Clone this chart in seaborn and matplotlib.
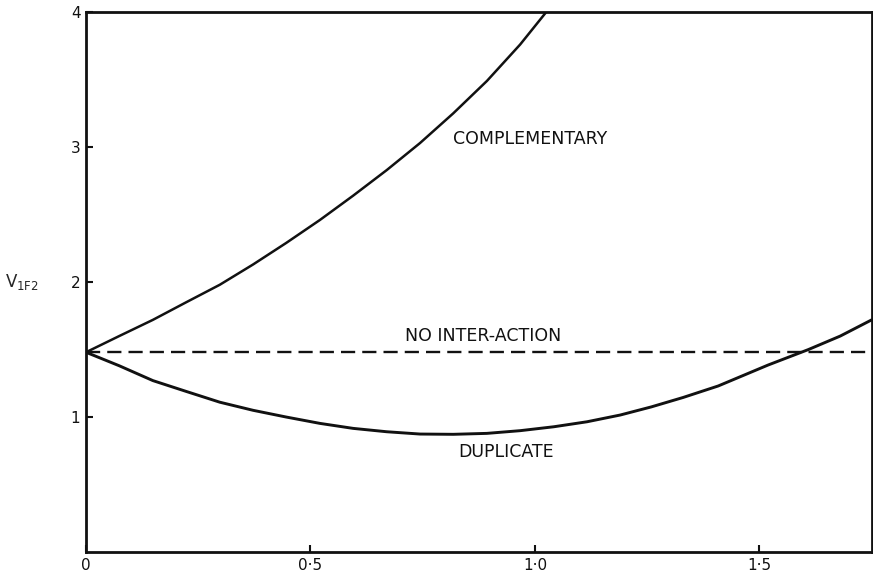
import numpy as np
import pandas as pd
import matplotlib
matplotlib.use('Agg')
import matplotlib.pyplot as plt
import seaborn as sns

# values
comp_x = [0.0, 0.074, 0.149, 0.223, 0.298, 0.372, 0.446, 0.521, 0.595, 0.670,
          0.744, 0.818, 0.893, 0.967, 1.025]
comp_y = [1.48, 1.60, 1.72, 1.85, 1.98, 2.13, 2.29, 2.46, 2.64, 2.83,
          3.03, 3.25, 3.49, 3.76, 4.0]

dup_x = [0.0, 0.074, 0.149, 0.223, 0.298, 0.372, 0.446, 0.521, 0.595, 0.670,
         0.744, 0.818, 0.893, 0.967, 1.042, 1.116, 1.19, 1.259, 1.33, 1.408,
         1.519, 1.609, 1.68, 1.75]
dup_y = [1.48, 1.38, 1.27, 1.19, 1.11, 1.05, 1.00, 0.953, 0.916, 0.891,
         0.874, 0.872, 0.879, 0.899, 0.928, 0.965, 1.015, 1.075, 1.145, 1.23,
         1.385, 1.50, 1.60, 1.72]

noint_x = [0.0, 1.75]
noint_y = [1.48, 1.48]

x_ticks = [0, 0.5, 1.0, 1.5]
x_tick_labels = ['0', '0·5', '1·0', '1·5']
y_ticks = [1, 2, 3, 4]
y_tick_labels = ['1', '2', '3', '4']

sns.set_style('ticks')
plt.rcParams['font.family'] = ['DejaVu Sans']

fig = plt.figure(figsize=(8.73, 5.77), dpi=100)
ax = fig.add_axes([0.0985, 0.0433, 0.9, 0.9357])

comp = pd.DataFrame({'x': comp_x, 'y': comp_y})
dup = pd.DataFrame({'x': dup_x, 'y': dup_y})
noint = pd.DataFrame({'x': noint_x, 'y': noint_y})

sns.lineplot(data=comp, x='x', y='y', color='#111111', lw=1.8, sort=False, ax=ax)
sns.lineplot(data=dup, x='x', y='y', color='#111111', lw=2.1, sort=False, ax=ax)
sns.lineplot(data=noint, x='x', y='y', color='#111111', lw=1.7, ax=ax,
             linestyle=(0, (6, 3)))

ax.set_xlim(0, 1.75)
ax.set_ylim(0, 4)
ax.set_xticks(x_ticks)
ax.set_xticklabels(x_tick_labels)
ax.set_yticks(y_ticks)
ax.set_yticklabels(y_tick_labels)
ax.tick_params(direction='in', length=5, width=1.5, labelsize=11, pad=4, colors='#111111')
ax.set_xlabel('')
ax.set_ylabel('V$_{\\mathrm{1F2}}$', rotation=0, fontsize=12, labelpad=35, va='center')

for s in ax.spines.values():
    s.set_linewidth(2.0)
    s.set_color('#111111')

ax.text(0.99, 3.06, 'COMPLEMENTARY', ha='center', va='center', fontsize=12.5, color='#111111')
ax.text(0.884, 1.60, 'NO INTER-ACTION', ha='center', va='center', fontsize=12.5, color='#111111')
ax.text(0.935, 0.74, 'DUPLICATE', ha='center', va='center', fontsize=12.5, color='#111111')

fig.savefig('out.png', dpi=100)
